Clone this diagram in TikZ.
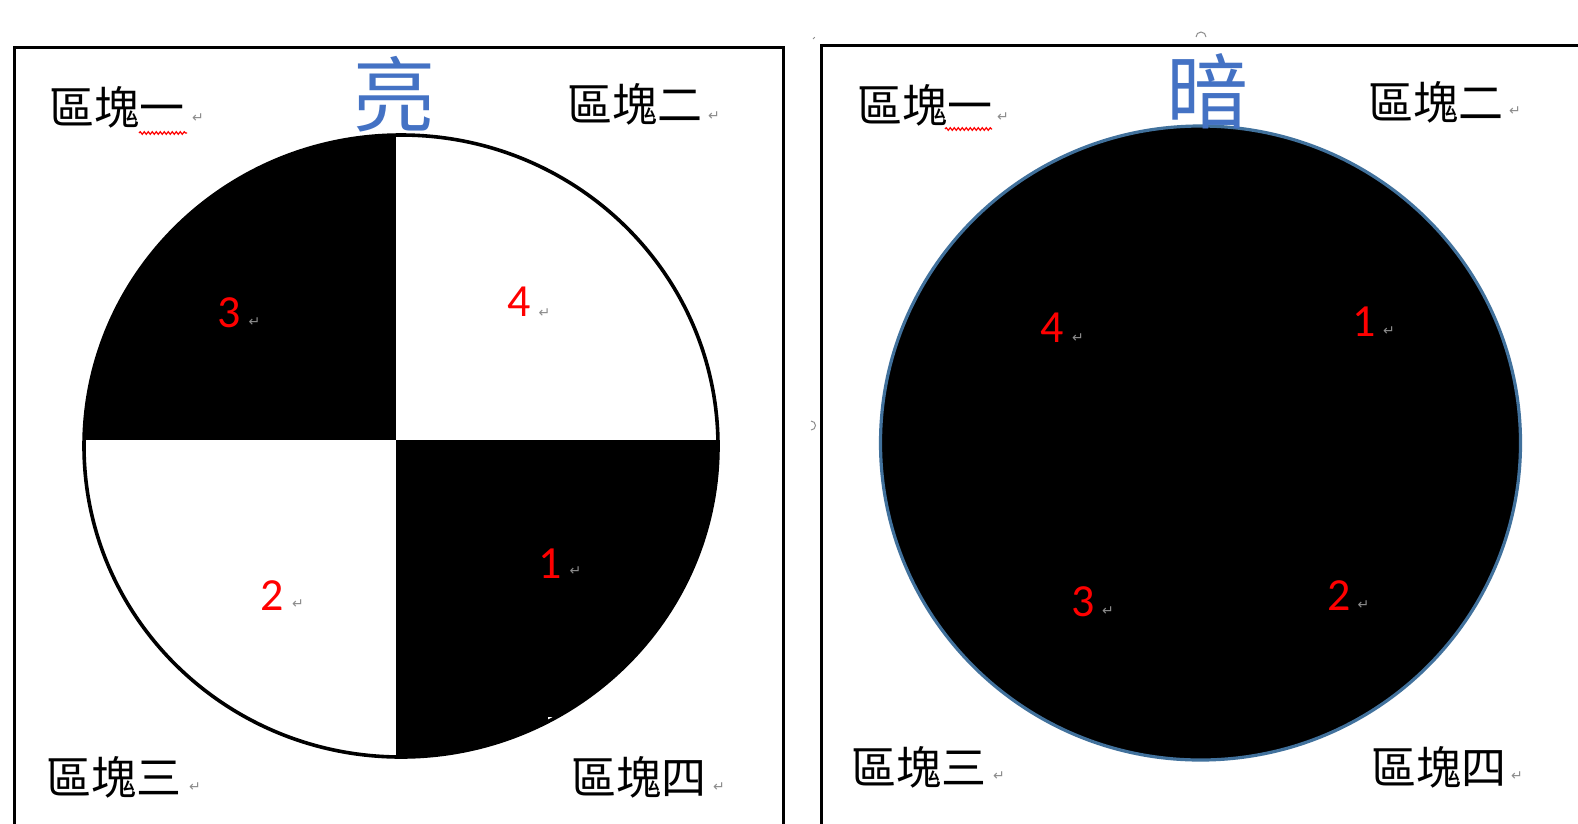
\documentclass[tikz,border=0pt]{standalone}
\usepackage{fontspec}
\newfontfamily\cjk{Noto Sans CJK TC}
\newfontfamily\numfont{Carlito}
\newfontfamily\symfont{DejaVu Sans}
\usetikzlibrary{decorations.pathmorphing}
\definecolor{titleblue}{HTML}{4472C4}
\definecolor{rimblue}{HTML}{41719C}
\definecolor{markgray}{gray}{0.55}
\begin{document}
\begin{tikzpicture}[x=1pt,y=-1pt,
  lbl/.style={font=\cjk\fontsize{45}{45}\selectfont, anchor=west, inner sep=0pt},
  ttl/.style={font=\cjk\fontsize{82}{82}\selectfont, text=titleblue, inner sep=0pt},
  num/.style={font=\numfont\fontsize{46}{46}\selectfont, text=red, inner sep=0pt},
  ret/.style={font=\symfont\fontsize{14}{14}\selectfont, text=markgray, inner sep=0pt},
  frameline/.style={line width=3pt, draw=black},
  squiggle/.style={draw=red, line width=1.2pt, decorate, decoration={snake, amplitude=1.3pt, segment length=4pt}},
  tinymark/.style={draw=markgray, line width=1pt}]

\useasboundingbox (0,0) rectangle (1578,823);
\fill[white] (0,0) rectangle (1578,823);

% frames
\draw[frameline] (14.5,830) -- (14.5,47) -- (783,47) -- (783,830);
\draw[frameline] (821.5,830) -- (821.5,45.5) -- (1590,45.5);

% left circle (bright)
\coordinate (lc) at (401,446);
\begin{scope}
  \clip (lc) ellipse [x radius=317, y radius=311];
  \fill[black] (60,100) rectangle (395.5,440);
  \fill[black] (395.5,440) rectangle (760,800);
  \fill[white] (548,717) rectangle (562,722);
\end{scope}
\draw[line width=3.6pt] (lc) ellipse [x radius=317, y radius=311];

% right circle (dark)
\coordinate (rc) at (1200.5,443);
\draw[draw=rimblue, line width=3.2pt, fill=black] (rc) ellipse [x radius=320, y radius=317];

% titles
\node[ttl] (tL) at (394,94) {亮};
\node[ttl] (tR) at (1207,91) {暗};

% block labels, left panel
\node[lbl] (L1) at (49,107.5) {區塊一};
\node[lbl] (L2) at (567,104) {區塊二};
\node[lbl] (L3) at (46,777) {區塊三};
\node[lbl] (L4) at (571,777) {區塊四};
% block labels, right panel
\node[lbl] (R1) at (857,105.5) {區塊一};
\node[lbl] (R2) at (1368,102) {區塊二};
\node[lbl] (R3) at (851,767) {區塊三};
\node[lbl] (R4) at (1371,767) {區塊四};

% return marks after labels
\node[ret] (rL1) at (198,118) {↵};
\node[ret] (rL2) at (714,116) {↵};
\node[ret] (rL3) at (195,787) {↵};
\node[ret] (rL4) at (719,787) {↵};
\node[ret] (rR1) at (1003,117) {↵};
\node[ret] (rR2) at (1515,111) {↵};
\node[ret] (rR3) at (999,776) {↵};
\node[ret] (rR4) at (1517,776) {↵};

% spelling squiggles
\coordinate (sL0) at (139,133);
\coordinate (sL1) at (187,133);
\draw[squiggle] (sL0) -- (sL1);
\coordinate (sR0) at (945,129);
\coordinate (sR1) at (992,129);
\draw[squiggle] (sR0) -- (sR1);

% numbers, left circle
\node[num] (nL3) at (229.5,313) {3};
\node[num] (nL4) at (519,302) {4};
\node[num] (nL2) at (272.5,596) {2};
\node[num] (nL1) at (550.5,563.5) {1};
\node[ret] (rnL3) at (254.5,322) {↵};
\node[ret] (rnL4) at (544.5,313) {↵};
\node[ret] (rnL2) at (298,604) {↵};
\node[ret] (rnL1) at (575.5,571.5) {↵};
% numbers, right circle
\node[num] (nR4) at (1052.5,328) {4};
\node[num] (nR1) at (1364.5,322) {1};
\node[num] (nR3) at (1083,602) {3};
\node[num] (nR2) at (1339.5,596) {2};
\node[ret] (rnR4) at (1078,338) {↵};
\node[ret] (rnR1) at (1389,331) {↵};
\node[ret] (rnR3) at (1108,611) {↵};
\node[ret] (rnR2) at (1363.5,605) {↵};

% tiny editor marks
\coordinate (m1) at (813,39);
\draw[tinymark] (m1) arc[start angle=200, end angle=250, radius=3];
\coordinate (m2) at (1196,37);
\draw[tinymark] (m2) arc[start angle=180, end angle=360, radius=5];
\coordinate (m3) at (811,430);
\draw[tinymark] (m3) arc[start angle=90, end angle=-90, radius=4.5];
\end{tikzpicture}
\end{document}
